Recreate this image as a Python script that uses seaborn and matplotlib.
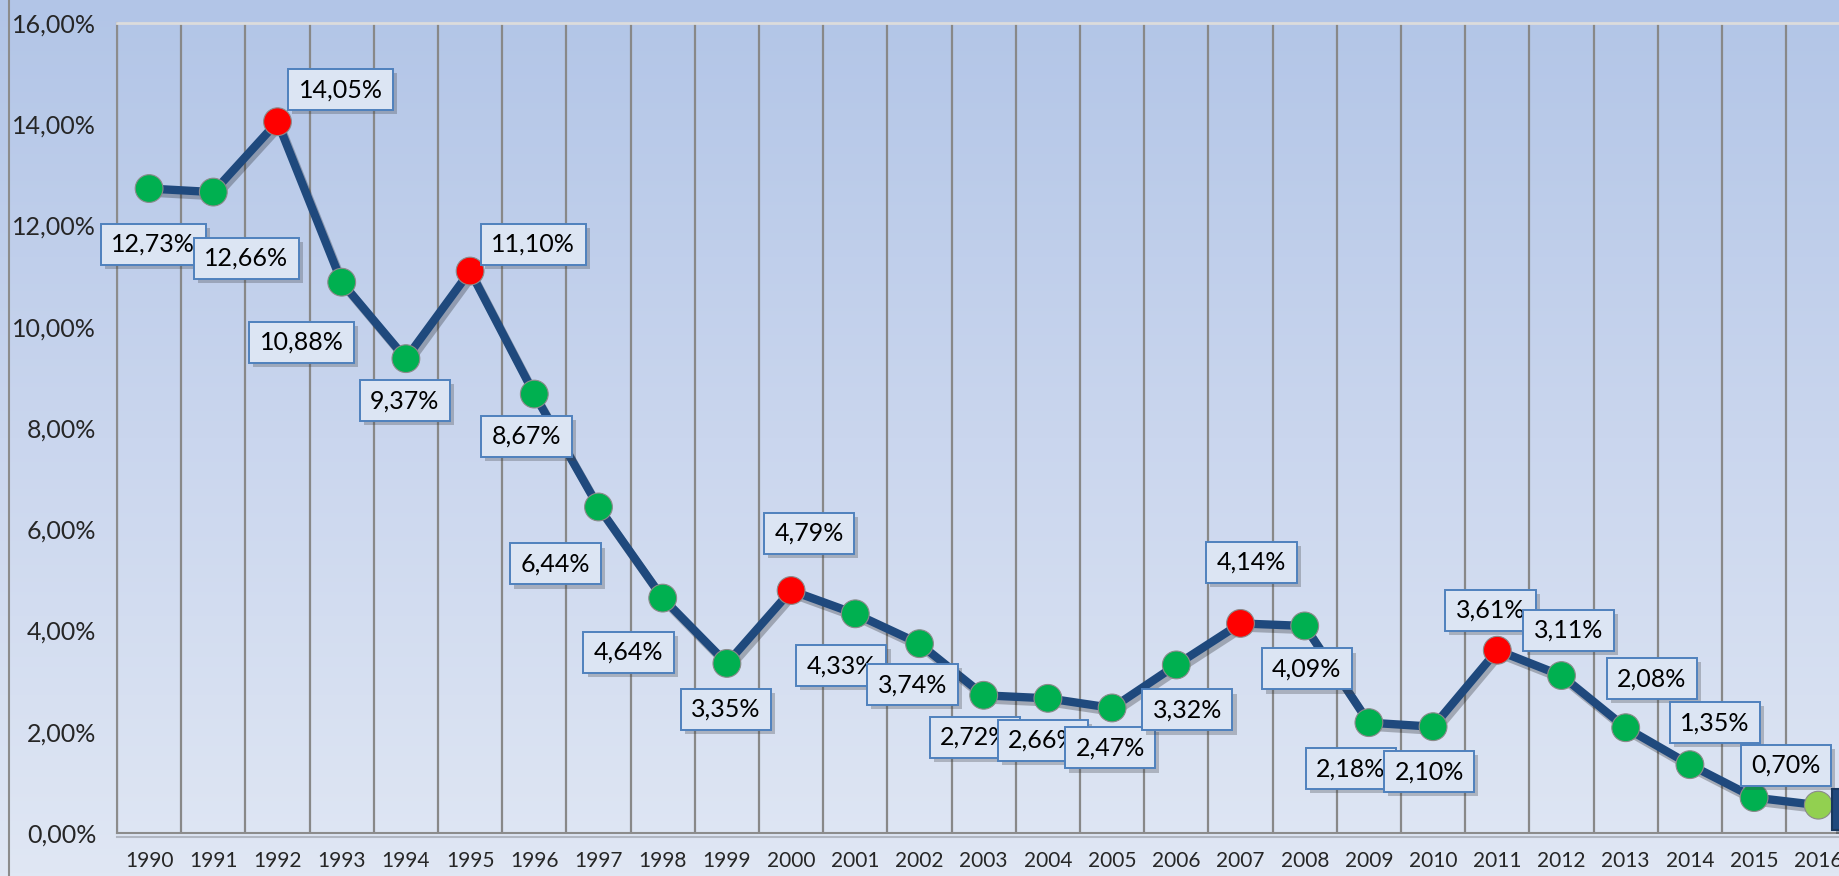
import numpy as np
import pandas as pd
import matplotlib
matplotlib.use('Agg')
import matplotlib.pyplot as plt
import seaborn as sns
from matplotlib import patheffects as pe
from matplotlib.lines import Line2D
from matplotlib.path import Path
from matplotlib.colors import LinearSegmentedColormap

# --- data ---
years = list(range(1990, 2017))
rates = [12.73, 12.66, 14.05, 10.88, 9.37, 11.10, 8.67, 6.44, 4.64, 3.35,
         4.79, 4.33, 3.74, 2.72, 2.66, 2.47, 3.32, 4.14, 4.09, 2.18,
         2.10, 3.61, 3.11, 2.08, 1.35, 0.70, 0.55]
peak_years = [1992, 1995, 2000, 2007, 2011]
last_year = 2016
y_ticks = [0, 2, 4, 6, 8, 10, 12, 14, 16]

# label offsets in pixels (dx, dy) from each point, dy up
label_offsets = [(4, -56), (33, -66), (63, 32), (-40, -60), (-1, -42), (63, 27),
                 (-8, -42), (-43, -57), (-34, -54), (-1, -46), (18, 57), (-14, -52),
                 (-7, -41), (-9, -42), (-5, -42), (-2, -40), (11, -45), (11, 61),
                 (2, -43), (-18, -46), (-4, -45), (-7, 40), (7, 45), (26, 49),
                 (25, 42), (32, 32), (24, -4)]

kind = ['peak' if y in peak_years else ('last' if y == last_year else 'normal') for y in years]
df = pd.DataFrame({'year': years, 'rate': rates, 'kind': kind})

sns.set_style('white')
plt.rcParams['font.family'] = ['Lato', 'DejaVu Sans']

W, H = 1840, 876
fig = plt.figure(figsize=(W / 100, H / 100), dpi=100)

# background gradient over the whole chart area
bg = fig.add_axes([0, 0, 1, 1], zorder=-1)
cmap = LinearSegmentedColormap.from_list('bg', ['#B2C5E7', '#CAD6EE', '#E0E7F4'])
grad = np.linspace(0, 1, 256).reshape(-1, 1)
bg.imshow(grad, aspect='auto', cmap=cmap, extent=[0, 1, 0, 1])
bg.axis('off')
fig.add_artist(Line2D([9 / W, 9 / W], [0, 1], transform=fig.transFigure,
                      color='#8c8c8c', lw=1.5))

# plot area (runs slightly past the right edge, like the original)
left, bottom = 117 / W, 43 / H
ax = fig.add_axes([left, bottom, 27 * 64.2 / W, 810 / H])
ax.set_facecolor('none')

line_color = '#1F497D'
sns.lineplot(data=df, x='year', y='rate', color=line_color, lw=6, ax=ax, zorder=3)
ax.lines[-1].set_path_effects([pe.SimpleLineShadow(offset=(2, -3), alpha=0.25), pe.Normal()])
ax.lines[-1].set_solid_joinstyle('round')

palette = {'normal': '#00B050', 'peak': '#FF0000', 'last': '#92D050'}
sns.scatterplot(data=df, x='year', y='rate', hue='kind', palette=palette, s=400,
                edgecolor='#8a8a8a', linewidth=0.8, legend=False, ax=ax, zorder=4)

ax.set_xlim(1989.5, 2016.5)
ax.set_ylim(0, 16)

# category ticks: labels at centres, tick marks + gridlines at boundaries
ax.set_xticks(years)
ax.set_xticklabels([str(y) for y in years], fontsize=15)
ax.set_xticks(np.arange(1989.5, 2017, 1), minor=True)
ax.tick_params(axis='x', which='major', length=0, pad=13)
ax.tick_params(axis='x', which='minor', length=7, width=1.5, color='#8c8c8c', direction='out')
ax.grid(which='minor', axis='x', color='#888888', lw=1.6)
ax.grid(which='major', axis='y', visible=False)

ax.set_yticks(y_ticks)
ax.set_yticklabels([f"{t:.2f}".replace('.', ',') + '%' for t in y_ticks], fontsize=18)
ax.tick_params(axis='y', length=5, width=1.5, color='#8c8c8c', direction='out', pad=10)
ax.set_xlabel('')
ax.set_ylabel('')

for side in ['left', 'bottom']:
    ax.spines[side].set_color('#8c8c8c')
    ax.spines[side].set_linewidth(1.5)
ax.spines['bottom'].set_path_effects([pe.SimpleLineShadow(offset=(0, -3), alpha=0.2), pe.Normal()])
ax.spines['top'].set_color('#dcdcdc')
ax.spines['top'].set_linewidth(2)
ax.spines['right'].set_visible(False)


def label_box(x0, y0, width, height, mutation_size):
    # wider vertical padding than a plain square box
    px = 0.42 * mutation_size
    cy = y0 + height / 2
    hh = 0.82 * mutation_size
    x0, x1 = x0 - px, x0 + width + px
    return Path([(x0, cy - hh), (x1, cy - hh), (x1, cy + hh), (x0, cy + hh), (x0, cy - hh)],
                closed=True)


# data labels
for yr, val, (dx, dy) in zip(years, rates, label_offsets):
    txt = f"{val:.2f}".replace('.', ',') + '%'
    if yr == last_year:
        t = ax.annotate(txt, (yr, val), xytext=(dx, dy), textcoords='offset pixels',
                        ha='left', va='center', fontsize=18, color='white', zorder=6,
                        bbox=dict(boxstyle=label_box, fc='#1F497D', ec='#17375E', lw=1.5),
                        annotation_clip=False)
    else:
        t = ax.annotate(txt, (yr, val), xytext=(dx, dy), textcoords='offset pixels',
                        ha='center', va='center', fontsize=18, color='black', zorder=5,
                        bbox=dict(boxstyle=label_box, fc='#DCE5F3', ec='#4F81BD', lw=1.4))
    t.get_bbox_patch().set_path_effects([pe.SimplePatchShadow(offset=(3, -3), alpha=0.3), pe.Normal()])

fig.savefig('out.png', dpi=100)
